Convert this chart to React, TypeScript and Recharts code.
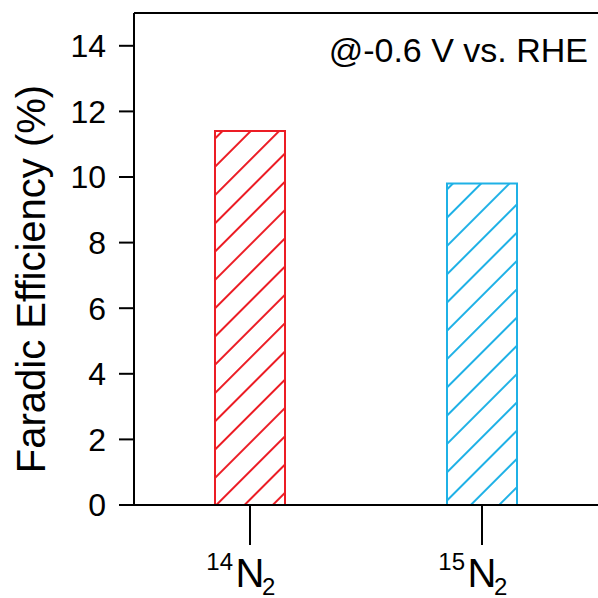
import React from 'react';
import { BarChart, Bar, XAxis, YAxis, Cell, ReferenceLine, Customized } from 'recharts';

// Faradaic efficiency of the two nitrogen isotopes at -0.6 V vs. RHE
const isotopes = ['14', '15'];
const efficiency = [11.4, 9.8];
const yTicks = [0, 2, 4, 6, 8, 10, 12, 14];
const barColors = ['#ec1d25', '#1fb1e6'];
const patternIds = ['hatch14', 'hatch15'];

const data = isotopes.map((iso, i) => ({ iso, fe: efficiency[i] }));

const FONT = '"Liberation Sans", Arial, sans-serif';

// Isotope label: superscript mass number, N, subscript 2 — the "N" sits on the tick
const IsotopeTick = (props: any) => {
  const { x, y, payload } = props;
  return (
    <g fontFamily={FONT} fill="#000">
      <text x={x - 17} y={y + 25} fontSize={24} textAnchor="end">{payload.value}</text>
      <text x={x} y={y + 42} fontSize={40} textAnchor="middle">N</text>
      <text x={x + 12} y={y + 50} fontSize={24} textAnchor="start">2</text>
    </g>
  );
};

const Annotations = () => (
  <g fontFamily={FONT} fill="#000">
    <text x={588} y={62} fontSize={34} textAnchor="end">@-0.6 V vs. RHE</text>
    <text x={45} y={279} fontSize={40} textAnchor="middle" transform="rotate(-90 45 279)">
      Faradic Efficiency (%)
    </text>
  </g>
);

export default function App() {
  return (
    <div style={{ position: 'fixed', left: 0, top: 0, width: 598, height: 598, background: '#fff' }}>
      <BarChart
        width={598}
        height={598}
        data={data}
        margin={{ top: 13, right: 0, bottom: 0, left: 0 }}
        style={{ fontFamily: FONT }}
      >
        <defs>
          {patternIds.map((id, i) => (
            <pattern
              key={id}
              id={id}
              patternUnits="userSpaceOnUse"
              width={20}
              height={20}
              patternTransform="rotate(45)"
            >
              <rect width={20} height={20} fill="#fff" />
              <line x1={10} y1={0} x2={10} y2={20} stroke={barColors[i]} strokeWidth={2} />
            </pattern>
          ))}
        </defs>
        <XAxis
          dataKey="iso"
          height={93}
          axisLine={{ stroke: '#000', strokeWidth: 2 }}
          tickLine={{ stroke: '#000', strokeWidth: 2 }}
          tickSize={40}
          tickMargin={0}
          tick={<IsotopeTick />}
          interval={0}
        />
        <YAxis
          width={134}
          domain={[0, 15]}
          ticks={yTicks}
          allowDataOverflow
          axisLine={{ stroke: '#000', strokeWidth: 2 }}
          tickLine={{ stroke: '#000', strokeWidth: 2 }}
          tickSize={15}
          tickMargin={13}
          tick={{ fill: '#000', fontSize: 32, fontFamily: FONT }}
        />
        <ReferenceLine y={15} stroke="#000" strokeWidth={2} />
        <Bar dataKey="fe" barSize={70} isAnimationActive={false} strokeWidth={2}>
          {data.map((d, i) => (
            <Cell key={d.iso} fill={`url(#${patternIds[i]})`} stroke={barColors[i]} />
          ))}
        </Bar>
        <Customized component={Annotations} />
      </BarChart>
    </div>
  );
}
